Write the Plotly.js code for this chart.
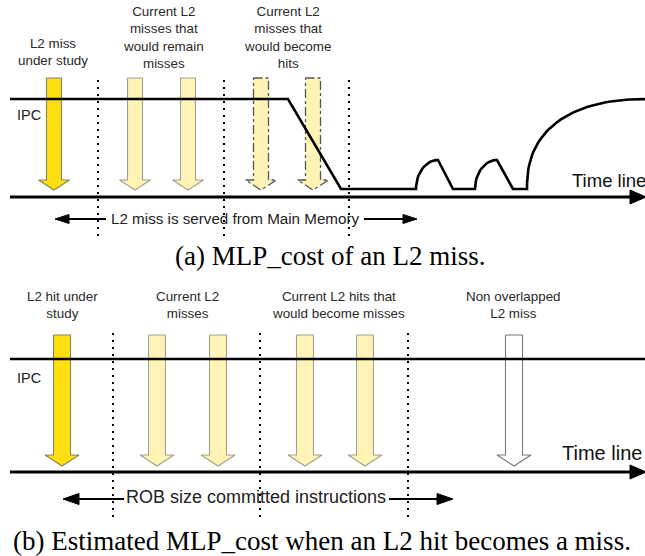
<!DOCTYPE html>
<html><head><meta charset="utf-8">
<script src="https://cdn.plot.ly/plotly-3.0.1.min.js"></script>
<style>html,body{margin:0;padding:0;background:#fff}#chart{width:645px;height:556px}</style>
</head><body><div id="chart"></div>
<script>
// ---------- Panel (a): MLP_cost of an L2 miss ----------
const arrowsA_t = [54, 135, 188, 261, 313];
const arrowsA_kind = ['gold', 'pale', 'pale', 'dashed', 'dashed'];
const dividersA_t = [98, 224, 349];
const labelsA = ['L2 miss<br>under study', 'Current L2<br>misses that<br>would remain<br>misses', 'Current L2<br>misses that<br>would become<br>hits'];
const labelsA_t = [53, 163, 287];
const ipcA_t = [10, 288, 341, 416];        // flat high, drop, flat low
const bumpsA_start = [416, 475];
const bumpsA_peak = [438, 497];
const bumpsA_end = [453, 513];
const recoverA_start = 527;
const spanA_label = 'L2 miss is served from Main Memory';
const spanA_t = [55, 417];
const captionA = '(a) MLP_cost of an L2 miss.';

// ---------- Panel (b): Estimated MLP_cost when an L2 hit becomes a miss ----------
const arrowsB_t = [62, 157, 218, 305, 365, 514];
const arrowsB_kind = ['gold', 'pale', 'pale', 'pale', 'pale', 'white'];
const dividersB_t = [113, 260, 408];
const labelsB = ['L2 hit under<br>study', 'Current L2<br>misses', 'Current L2 hits that<br>would become misses', 'Non overlapped<br>L2 miss'];
const labelsB_t = [62, 187, 338, 513];
const spanB_label = 'ROB size committed instructions';
const spanB_t = [63, 453];
const captionB = '(b) Estimated MLP_cost when an L2 hit becomes a miss.';

// ---------- geometry / style ----------
const W = 645, H = 556;
const styles = {
  gold:   {fill: '#FFDE12', line: '#8a8460', dash: 'solid'},
  pale:   {fill: '#FFF4B6', line: '#a2a090', dash: 'solid'},
  dashed: {fill: '#FFF4B6', line: '#555555', dash: 'dashdot'},
  white:  {fill: '#FFFFFF', line: '#777777', dash: 'solid'}
};
const traces = [];
const annotations = [];
const SANS = 'Liberation Sans, Arial, sans-serif';
const LABEL_FONT = {family: SANS, size: 13.4, color: '#2a2a2a'};

function arrow(cx, top, shoulder, tip, sw, hw, kind) {
  const s = styles[kind];
  traces.push({
    type: 'scatter', mode: 'lines', hoverinfo: 'skip', showlegend: false,
    x: [cx - sw, cx + sw, cx + sw, cx + hw, cx, cx - hw, cx - sw, cx - sw],
    y: [top, top, shoulder, shoulder, tip, shoulder, shoulder, top],
    fill: 'toself', fillcolor: s.fill,
    line: {color: s.line, width: kind === 'dashed' ? 1.3 : 1.1, dash: s.dash}
  });
}
function line(xs, ys, width, color, dash) {
  traces.push({type: 'scatter', mode: 'lines', hoverinfo: 'skip', showlegend: false,
    x: xs, y: ys, line: {color: color || '#000', width: width, dash: dash || 'solid'}});
}
function tri(xs, ys) {
  traces.push({type: 'scatter', mode: 'lines', hoverinfo: 'skip', showlegend: false,
    x: xs, y: ys, fill: 'toself', fillcolor: '#000', line: {color: '#000', width: 1}});
}
function timeAxis(y) {
  line([10, 632], [y, y], 3, '#000');
  tri([630, 646, 630, 630], [y - 7, y, y + 7, y - 7]);
}
function spanArrow(t0, t1, y, textL, textR, headLen, headH) {
  line([t0 + headLen - 1, textL], [y, y], 1.8);
  line([textR, t1 - headLen + 1], [y, y], 1.8);
  tri([t0, t0 + headLen, t0 + headLen, t0], [y, y - headH, y + headH, y]);
  tri([t1, t1 - headLen, t1 - headLen, t1], [y, y - headH, y + headH, y]);
}
function text(t, x, y, font, xanchor) {
  annotations.push({text: t, x: x, y: y, xref: 'x', yref: 'y', showarrow: false,
    xanchor: xanchor || 'center', yanchor: 'middle', font: font, align: 'center'});
}

// ----- panel (a) -----
const A_IPC = 99, A_LOW = 189, A_AXIS = 197;
arrowsA_t.forEach((t, i) => arrow(t, 78, 180, 190, 7.5, 15.5, arrowsA_kind[i]));
dividersA_t.forEach(t => line([t, t], [80, 240], 2, '#000', '2px,5px'));
// IPC profile
(function () {
  const xs = [ipcA_t[0], ipcA_t[1], ipcA_t[2], ipcA_t[3]];
  const ys = [A_IPC, A_IPC, A_LOW, A_LOW];
  for (let b = 0; b < bumpsA_start.length; b++) {
    const s = bumpsA_start[b], p = bumpsA_peak[b], e = bumpsA_end[b];
    const rx = p - s, ry = 29;
    for (let k = 0; k <= 16; k++) {
      const a = (k / 16) * Math.PI / 2;
      xs.push(p - rx * Math.cos(a)); ys.push(A_LOW - ry * Math.sin(a));
    }
    xs.push(e); ys.push(A_LOW);
    const next = b + 1 < bumpsA_start.length ? bumpsA_start[b + 1] : recoverA_start;
    xs.push(next); ys.push(A_LOW);
  }
  const cx = 650, rx = cx - recoverA_start, ry = A_LOW - A_IPC, n = 2.4;
  for (let k = 0; k <= 40; k++) {
    const a = (k / 40) * Math.PI / 2;
    xs.push(cx - rx * Math.pow(Math.cos(a), 2 / n));
    ys.push(A_LOW - ry * Math.pow(Math.sin(a), 2 / n));
  }
  line(xs, ys, 2.6, '#000');
})();
timeAxis(A_AXIS);
labelsA.forEach((l, i) => text(l, labelsA_t[i], i === 0 ? 52 : 37, LABEL_FONT));
text('IPC', 15, 115, {family: SANS, size: 14.5, color: '#222'}, 'left');
text('Time line', 570, 180, {family: SANS, size: 18.5, color: '#111'}, 'left');
spanArrow(spanA_t[0], spanA_t[1], 219, 106, 364, 14, 4.5);
text(spanA_label, 235, 218, {family: SANS, size: 15.2, color: '#222'});
text(captionA, 330, 256, {family: 'Liberation Serif, Times New Roman, serif', size: 27, color: '#000'});

// ----- panel (b) -----
const B_IPC = 359, B_AXIS = 472;
arrowsB_t.forEach((t, i) => arrow(t, 335, 455, 466, 8.5, 17, arrowsB_kind[i]));
dividersB_t.forEach(t => line([t, t], [333, 522], 2, '#000', '2px,5px'));
line([10, 645], [B_IPC, B_IPC], 2.6, '#000');
timeAxis(B_AXIS);
labelsB.forEach((l, i) => text(l, labelsB_t[i], 305, LABEL_FONT));
text('IPC', 15, 378, {family: SANS, size: 14.5, color: '#222'}, 'left');
text('Time line', 560, 453, {family: SANS, size: 20, color: '#111'}, 'left');
spanArrow(spanB_t[0], spanB_t[1], 499, 124, 389, 16, 5.5);
text(spanB_label, 256, 497, {family: SANS, size: 18, color: '#222'});
text(captionB, 322, 541, {family: 'Liberation Serif, Times New Roman, serif', size: 27, color: '#000'});

const layout = {
  width: W, height: H, margin: {l: 0, r: 0, t: 0, b: 0},
  paper_bgcolor: '#fff', plot_bgcolor: '#fff', showlegend: false,
  xaxis: {range: [0, W], visible: false, fixedrange: true},
  yaxis: {range: [H, 0], visible: false, fixedrange: true},
  annotations: annotations
};
Plotly.newPlot('chart', traces, layout, {staticPlot: true, displayModeBar: false});
</script></body></html>
